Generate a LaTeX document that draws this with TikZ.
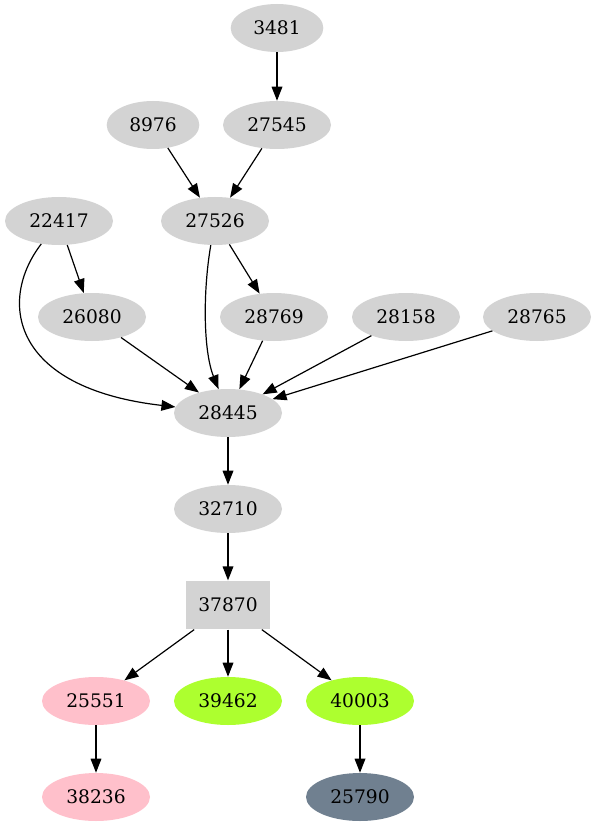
\documentclass[tikz,border=0pt]{standalone}
\usepackage{fontspec}
\setmainfont{DejaVu Serif}
\usetikzlibrary{shapes.geometric,arrows.meta}
\definecolor{lgray}{HTML}{D3D3D3}
\definecolor{pinkc}{HTML}{FFC0CB}
\definecolor{gyellow}{HTML}{ADFF2F}
\definecolor{sgray}{HTML}{708090}
\begin{document}
\begin{tikzpicture}[x=0.75pt,y=-0.75pt,
  nd/.style={ellipse,fill=lgray,draw=none,inner sep=0pt,minimum width=81pt,minimum height=36pt,font=\fontsize{14}{16}\selectfont},
  nds/.style={nd,minimum width=69.5pt},
  bx/.style={rectangle,fill=lgray,draw=none,inner sep=0pt,minimum width=63pt,minimum height=36.5pt,font=\fontsize{14}{16}\selectfont},
  ed/.style={-{Triangle[length=10.5pt,width=8pt]},line width=0.9pt}]
\useasboundingbox (0,0) rectangle (597,827);
\node[nds] (n3481) at (277,28) {3481};
\node[nd] (n27545) at (277,125) {27545};
\node[nds] (n8976) at (153,125) {8976};
\node[nd] (n27526) at (215,221) {27526};
\node[nd] (n22417) at (59,221) {22417};
\node[nd] (n26080) at (92,317) {26080};
\node[nd] (n28769) at (274,317) {28769};
\node[nd] (n28158) at (406,317) {28158};
\node[nd] (n28765) at (537,317) {28765};
\node[nd] (n28445) at (228,413) {28445};
\node[nd] (n32710) at (228,509) {32710};
\node[bx] (n37870) at (228,605) {37870};
\node[nd,fill=pinkc] (n25551) at (96,701) {25551};
\node[nd,fill=gyellow] (n39462) at (228,701) {39462};
\node[nd,fill=gyellow] (n40003) at (360,701) {40003};
\node[nd,fill=pinkc] (n38236) at (96,797) {38236};
\node[nd,fill=sgray] (n25790) at (360,797) {25790};
\draw[ed] (n3481) -- (n27545);
\draw[ed] (n8976) -- (n27526);
\draw[ed] (n27545) -- (n27526);
\draw[ed] (n22417) -- (n26080);
\draw[ed] (n22417) .. controls (-2,300) and (10,388) .. (n28445);
\draw[ed] (n27526) .. controls (203,290) and (203,350) .. (n28445);
\draw[ed] (n27526) -- (n28769);
\draw[ed] (n26080) -- (n28445);
\draw[ed] (n28769) -- (n28445);
\draw[ed] (n28158) -- (n28445);
\draw[ed] (n28765) -- (n28445);
\draw[ed] (n28445) -- (n32710);
\draw[ed] (n32710) -- (n37870);
\draw[ed] (n37870) -- (n25551);
\draw[ed] (n37870) -- (n39462);
\draw[ed] (n37870) -- (n40003);
\draw[ed] (n25551) -- (n38236);
\draw[ed] (n40003) -- (n25790);
\end{tikzpicture}
\end{document}
